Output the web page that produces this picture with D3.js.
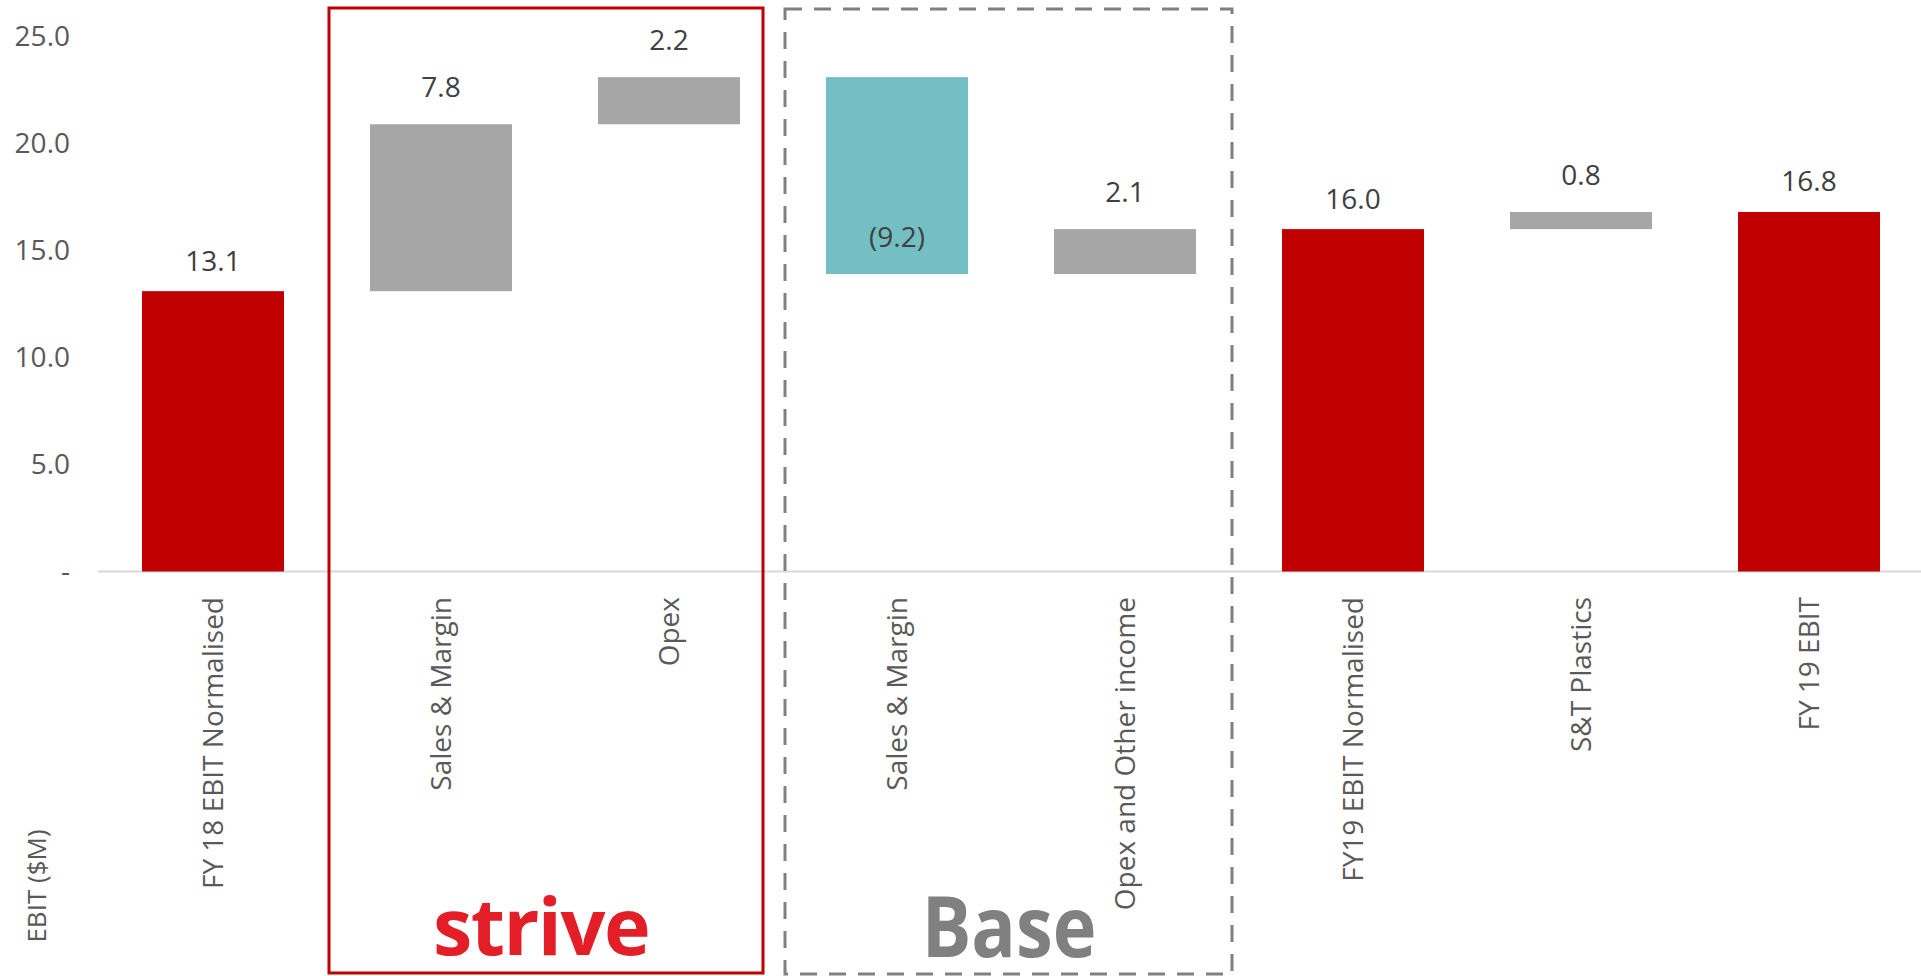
<!DOCTYPE html>
<meta charset="utf-8">
<style>
body { margin: 0; background: #fff; }
text { font-family: "Open Sans", sans-serif; }
.tick-label { font-size: 28px; fill: #595959; }
.cat-label { font-size: 28px; fill: #595959; }
.axis-title { font-size: 26px; fill: #595959; }
.val-label { font-size: 28px; fill: #404040; text-anchor: middle; }
</style>
<svg width="1921" height="976"></svg>
<script src="https://cdnjs.cloudflare.com/ajax/libs/d3/7.8.5/d3.min.js"></script>
<script>

var categories = ["FY 18 EBIT Normalised", "Sales & Margin", "Opex", "Sales & Margin",
                  "Opex and Other income", "FY19 EBIT Normalised", "S&T Plastics", "FY 19 EBIT"];
var values = [13.1, 7.8, 2.2, -9.2, 2.1, 16.0, 0.8, 16.8];
var kinds = ["total", "delta", "delta", "delta", "delta", "total", "delta", "total"];
var yTicks = [0, 5, 10, 15, 20, 25];

var svg = d3.select("svg");

var x = d3.scaleBand()
    .domain(d3.range(categories.length))
    .range([99, 1923]);

var y = d3.scaleLinear()
    .domain([0, 25])
    .range([571.5, 36.5]);

var barW = 142;

// running totals for the waterfall
var run = 0;
var bars = values.map(function(v, i) {
  var start, end;
  if (kinds[i] === "total") { start = 0; end = v; run = v; }
  else { start = run; end = run + v; run = end; }
  return { i: i, v: v, kind: kinds[i], start: start, end: end };
});

function barColor(d) {
  if (d.kind === "total") return "#c00000";
  if (d.v < 0) return "#73bfc4";
  return "#a6a6a6";
}

// axis baseline
svg.append("line")
    .attr("x1", 98).attr("x2", 1921)
    .attr("y1", y(0)).attr("y2", y(0))
    .attr("stroke", "#d9d9d9").attr("stroke-width", 2);

// y tick labels
svg.selectAll(".tick-label")
  .data(yTicks)
  .enter().append("text")
    .attr("class", "tick-label")
    .attr("x", 70)
    .attr("y", function(d) { return y(d); })
    .attr("dy", "0.35em")
    .attr("text-anchor", "end")
    .text(function(d) { return d === 0 ? "-" : d.toFixed(1); });

// bars
svg.selectAll(".bar")
  .data(bars)
  .enter().append("rect")
    .attr("class", "bar")
    .attr("x", function(d) { return x(d.i) + x.bandwidth() / 2 - barW / 2; })
    .attr("width", barW)
    .attr("y", function(d) { return y(Math.max(d.start, d.end)); })
    .attr("height", function(d) { return Math.abs(y(d.start) - y(d.end)); })
    .attr("fill", barColor);

// value labels
svg.selectAll(".val-label")
  .data(bars)
  .enter().append("text")
    .attr("class", "val-label")
    .attr("x", function(d) { return x(d.i) + x.bandwidth() / 2; })
    .attr("y", function(d) { return y(d.end) - (d.kind === "total" ? 20.5 : 27); })
    .text(function(d) { return d.v < 0 ? "(" + Math.abs(d.v).toFixed(1) + ")" : d.v.toFixed(1); });

// category labels (rotated)
svg.selectAll(".cat-label")
  .data(categories)
  .enter().append("text")
    .attr("class", "cat-label")
    .attr("text-anchor", "end")
    .attr("transform", function(d, i) {
      return "translate(" + (x(i) + x.bandwidth() / 2 + 10) + ",597) rotate(-90)";
    })
    .text(function(d) { return d; });

// y axis title
svg.append("text")
    .attr("class", "axis-title")
    .attr("text-anchor", "middle")
    .attr("transform", "translate(46,886) rotate(-90)")
    .text("EBIT ($M)");

// group boxes
var step = x.step();
svg.append("rect")
    .attr("x", x(1) + 2).attr("y", 8)
    .attr("width", 2 * step - 22).attr("height", 965)
    .attr("fill", "none")
    .attr("stroke", "#c00000").attr("stroke-width", 3);

svg.append("rect")
    .attr("x", x(3) + 2).attr("y", 9)
    .attr("width", 2 * step - 9).attr("height", 965)
    .attr("fill", "none")
    .attr("stroke", "#808080").attr("stroke-width", 3)
    .attr("stroke-dasharray", "17,12");

// group titles
svg.append("text")
    .attr("x", 541).attr("y", 955)
    .attr("text-anchor", "middle")
    .style("font-size", "79px").style("font-weight", 700)
    .style("letter-spacing", "-1.5px")
    .attr("fill", "#e41e26")
    .text("strive");

svg.append("text")
    .attr("transform", "translate(1009,957) scale(0.88,1)")
    .attr("text-anchor", "middle")
    .style("font-size", "84px").style("font-weight", 700)
    .attr("fill", "#808080")
    .text("Base");

</script>
